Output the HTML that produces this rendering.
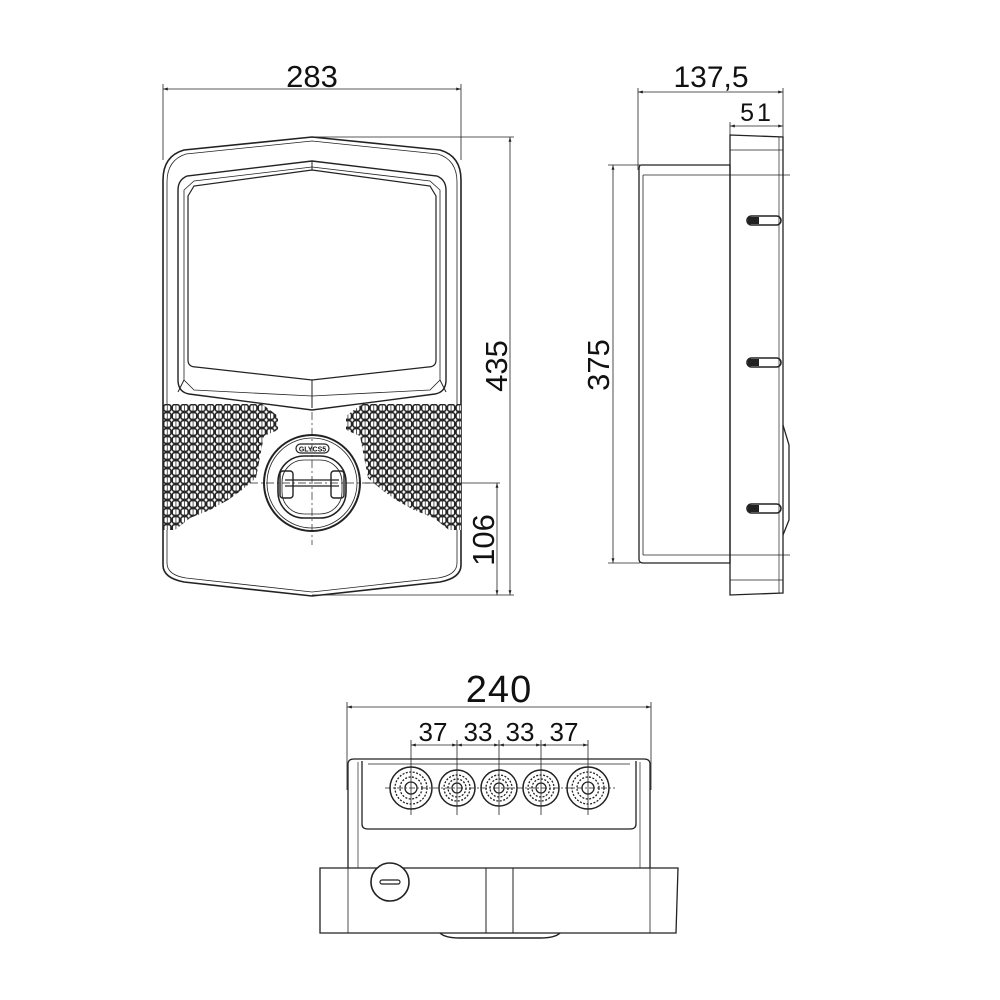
<!DOCTYPE html>
<html><head><meta charset="utf-8"><style>html,body{margin:0;padding:0;background:#fff}svg{display:block}text{font-family:"Liberation Sans",sans-serif;fill:#111}</style></head><body>
<svg width="1000" height="1000" viewBox="0 0 1000 1000" xmlns="http://www.w3.org/2000/svg">
<defs>
<pattern id="g" x="163" y="404" width="8.6" height="8" patternUnits="userSpaceOnUse">
<rect x="0.7" y="0.6" width="7.2" height="6.8" rx="2.4" fill="#fff" stroke="#222" stroke-width="1.5"/>
<line x1="4.3" y1="0" x2="4.3" y2="8" stroke="#333" stroke-width="0.8"/>
</pattern>
<marker id="a" viewBox="0 0 10 10" refX="10" refY="5" markerWidth="6" markerHeight="6" orient="auto-start-reverse"><path d="M0,2L10,5L0,8z" fill="#222"/></marker>
</defs>
<g fill="none" stroke="#222" stroke-width="1">
<line x1="163" y1="84" x2="163" y2="160" stroke-width="0.8"/>
<line x1="461" y1="84" x2="461" y2="160" stroke-width="0.8"/>
<line x1="163" y1="89" x2="461" y2="89" marker-start="url(#a)" marker-end="url(#a)" stroke-width="0.8"/>
<line x1="312" y1="137" x2="514" y2="137" stroke-width="0.8"/>
<line x1="312" y1="595" x2="514" y2="595" stroke-width="0.8"/>
<line x1="510" y1="137" x2="510" y2="595" marker-start="url(#a)" marker-end="url(#a)" stroke-width="0.8"/>
<line x1="365" y1="483" x2="500" y2="483" stroke-width="0.8"/>
<line x1="497" y1="483" x2="497" y2="595" marker-start="url(#a)" marker-end="url(#a)" stroke-width="0.8"/>
<path d="M312,137 L440,150 Q461,156 461,180 L461,565 Q461,578 440,582 L312,596 L184,582 Q163,578 163,565 L163,180 Q163,156 184,150 Z" stroke-width="1.6"/>
<path d="M312,141 L438,154 Q457,160 457,182 L457,563 Q457,575 438,578 L312,592 L186,578 Q167,575 167,563 L167,182 Q167,160 186,154 Z" stroke-width="0.8"/>
<path d="M312,161 L437,176 Q446,180 446,190 L446,380 Q446,392 435,394 L312,410 L189,394 Q178,392 178,380 L178,190 Q178,180 187,176 Z" stroke-width="1.4"/>
<path d="M312,167 L430,181 L440,190 L440,380 L430,390 L312,396 L194,390 L184,380 L184,190 L194,181 Z" stroke-width="0.8"/>
<path d="M312,170 L430,186 L436,196 L436,360 Q436,367 428,367 L312,380 L196,367 Q188,367 188,360 L188,196 L194,186 Z" stroke-width="1.2"/>
<line x1="312" y1="380" x2="312" y2="408"/>
<line x1="184" y1="380" x2="178" y2="392"/><line x1="440" y1="380" x2="446" y2="392"/>
<line x1="312" y1="161" x2="312" y2="170"/>
</g>
<polygon points="163,404 262,404 278,416 278,430 264,436 256,478 242,490 228,500 210,510 190,518 175,530 163,530" fill="url(#g)"/>
<polygon points="461,404 362,404 346,416 346,430 360,436 368,478 382,490 396,500 414,510 434,518 449,530 461,530" fill="url(#g)"/>
<g fill="none" stroke="#222">
<circle cx="312" cy="483" r="48" stroke-width="2" fill="#fff"/>
<circle cx="312" cy="483" r="45" stroke-width="0.8"/>
<rect x="278" y="456" width="68" height="62" rx="26" stroke-width="1.6"/>
<rect x="282" y="460" width="60" height="54" rx="22" stroke-width="0.8"/>
<rect x="280" y="471" width="13" height="27" rx="3" stroke-width="1.4"/>
<rect x="331" y="471" width="13" height="27" rx="3" stroke-width="1.4"/>
<line x1="285" y1="480" x2="339" y2="480" stroke-width="1.2"/><line x1="285" y1="486" x2="339" y2="486" stroke-width="1.2"/>
<rect x="296" y="444" width="33" height="9" rx="4.5" stroke-width="1.2"/>
<text x="312.5" y="451.5" font-size="7" text-anchor="middle" stroke="none" font-weight="bold">GLYCS5</text>
<line x1="312" y1="412" x2="312" y2="545" stroke-width="0.7" stroke-dasharray="8,3,2,3"/>
<line x1="250" y1="483" x2="380" y2="483" stroke-width="0.7" stroke-dasharray="8,3,2,3"/>

<line x1="638" y1="88" x2="638" y2="170" stroke-width="0.8"/>
<line x1="783" y1="88" x2="783" y2="140" stroke-width="0.8"/>
<line x1="730" y1="122" x2="730" y2="137" stroke-width="0.8"/>
<line x1="638" y1="92" x2="783" y2="92" marker-start="url(#a)" marker-end="url(#a)" stroke-width="0.8"/>
<line x1="730" y1="126" x2="783" y2="126" marker-start="url(#a)" marker-end="url(#a)" stroke-width="0.8"/>
<line x1="608" y1="165" x2="640" y2="165" stroke-width="0.8"/>
<line x1="608" y1="563" x2="640" y2="563" stroke-width="0.8"/>
<line x1="613" y1="165" x2="613" y2="563" marker-start="url(#a)" marker-end="url(#a)" stroke-width="0.8"/>
<path d="M641,165 L730,165 L730,563 L643,563 Q639,563 639,559 L639,170 Q639,165 641,165 Z" stroke-width="1.3"/>
<line x1="643" y1="175" x2="643" y2="555" stroke-width="0.8"/>
<line x1="643" y1="175" x2="790" y2="175" stroke-width="0.7"/>
<line x1="643" y1="555" x2="790" y2="555" stroke-width="0.7"/>
<path d="M730,135 L783,137 L783,593 L730,595 Z" stroke-width="1.3"/>
<line x1="730" y1="150" x2="783" y2="150" stroke-width="0.7"/>
<line x1="730" y1="580" x2="783" y2="580" stroke-width="0.7"/>
<line x1="779" y1="137" x2="779" y2="593" stroke-width="0.7"/>
<path d="M783,425 L789,445 L789,520 L783,535" stroke-width="1.3"/>
<g stroke-width="1.6">
<rect x="747" y="216" width="34" height="9" rx="4.5"/><rect x="747" y="358" width="34" height="9" rx="4.5"/><rect x="747" y="504" width="34" height="9" rx="4.5"/>
</g>
<g fill="#222" stroke="none"><rect x="748" y="217" width="11" height="7"/><rect x="748" y="359" width="11" height="7"/><rect x="748" y="505" width="11" height="7"/></g>

<line x1="347" y1="702" x2="347" y2="790" stroke-width="0.8"/>
<line x1="651" y1="702" x2="651" y2="790" stroke-width="0.8"/>
<line x1="347" y1="707" x2="651" y2="707" marker-start="url(#a)" marker-end="url(#a)" stroke-width="0.8"/>
<g stroke-width="0.8">
<line x1="411" y1="740" x2="411" y2="815"/><line x1="457" y1="740" x2="457" y2="815"/><line x1="499" y1="740" x2="499" y2="815"/><line x1="541" y1="740" x2="541" y2="815"/><line x1="588" y1="740" x2="588" y2="815"/>
<line x1="411" y1="745" x2="457" y2="745" marker-start="url(#a)" marker-end="url(#a)"/>
<line x1="457" y1="745" x2="499" y2="745" marker-start="url(#a)" marker-end="url(#a)"/>
<line x1="499" y1="745" x2="541" y2="745" marker-start="url(#a)" marker-end="url(#a)"/>
<line x1="541" y1="745" x2="588" y2="745" marker-start="url(#a)" marker-end="url(#a)"/>
</g>
<path d="M348,868 L348,764 Q348,759 354,759 L644,759 Q650,759 650,764 L650,868" stroke-width="1.3"/>
<path d="M362,761 L362,824 Q362,829 368,829 L630,829 Q636,829 636,824 L636,761" stroke-width="1.3"/>
<line x1="358" y1="762" x2="358" y2="868" stroke-width="0.7"/>
<line x1="640" y1="762" x2="640" y2="868" stroke-width="0.7"/>
<line x1="368" y1="764" x2="630" y2="764" stroke-width="0.7"/>
<g>
<circle cx="411" cy="788" r="21" stroke-width="1.5"/><circle cx="411" cy="788" r="16" stroke-width="1.3" stroke-dasharray="2,1.5"/><circle cx="411" cy="788" r="11" stroke-width="1.3" stroke-dasharray="2,1.5"/><circle cx="411" cy="788" r="6" stroke-width="1.3"/>
<circle cx="457" cy="788" r="18" stroke-width="1.5"/><circle cx="457" cy="788" r="13" stroke-width="1.3" stroke-dasharray="2,1.5"/><circle cx="457" cy="788" r="9" stroke-width="1.3" stroke-dasharray="2,1.5"/><circle cx="457" cy="788" r="5" stroke-width="1.3"/>
<circle cx="499" cy="788" r="18" stroke-width="1.5"/><circle cx="499" cy="788" r="13" stroke-width="1.3" stroke-dasharray="2,1.5"/><circle cx="499" cy="788" r="9" stroke-width="1.3" stroke-dasharray="2,1.5"/><circle cx="499" cy="788" r="5" stroke-width="1.3"/>
<circle cx="541" cy="788" r="18" stroke-width="1.5"/><circle cx="541" cy="788" r="13" stroke-width="1.3" stroke-dasharray="2,1.5"/><circle cx="541" cy="788" r="9" stroke-width="1.3" stroke-dasharray="2,1.5"/><circle cx="541" cy="788" r="5" stroke-width="1.3"/>
<circle cx="588" cy="788" r="21" stroke-width="1.5"/><circle cx="588" cy="788" r="16" stroke-width="1.3" stroke-dasharray="2,1.5"/><circle cx="588" cy="788" r="11" stroke-width="1.3" stroke-dasharray="2,1.5"/><circle cx="588" cy="788" r="6" stroke-width="1.3"/>
</g>
<line x1="385" y1="788" x2="615" y2="788" stroke-width="0.7" stroke-dasharray="6,2,2,2"/>
<path d="M320,868 L678,868 L676,933 L320,933 Z" stroke-width="1.3" fill="#fff"/>
<line x1="348" y1="868" x2="348" y2="933" stroke-width="0.8"/>
<line x1="650" y1="868" x2="650" y2="933" stroke-width="0.8"/>
<line x1="486" y1="868" x2="486" y2="933"/><line x1="513" y1="868" x2="513" y2="933"/>
<path d="M440,933 Q445,938 460,938 L540,938 Q555,938 560,933" stroke-width="1.5"/>
<circle cx="390" cy="882" r="19" stroke-width="1.6" fill="#fff"/>
<rect x="380" y="880" width="20" height="4" rx="2" stroke-width="1.2"/>
</g>
<text x="312" y="87" font-size="31" text-anchor="middle">283</text>
<text transform="translate(507,366) rotate(-90)" font-size="31" text-anchor="middle">435</text>
<text transform="translate(494,540) rotate(-90)" font-size="31" text-anchor="middle">106</text>
<text x="711" y="87" font-size="30" text-anchor="middle">137,5</text>
<text x="757" y="121" font-size="25" text-anchor="middle" letter-spacing="3">51</text>
<text transform="translate(609,365) rotate(-90)" font-size="31" text-anchor="middle">375</text>
<text x="499" y="702" font-size="38" text-anchor="middle" letter-spacing="1">240</text>
<text x="433" y="741" font-size="26" text-anchor="middle">37</text>
<text x="478" y="741" font-size="26" text-anchor="middle">33</text>
<text x="520" y="741" font-size="26" text-anchor="middle">33</text>
<text x="564" y="741" font-size="26" text-anchor="middle">37</text>
</svg>
</body></html>
